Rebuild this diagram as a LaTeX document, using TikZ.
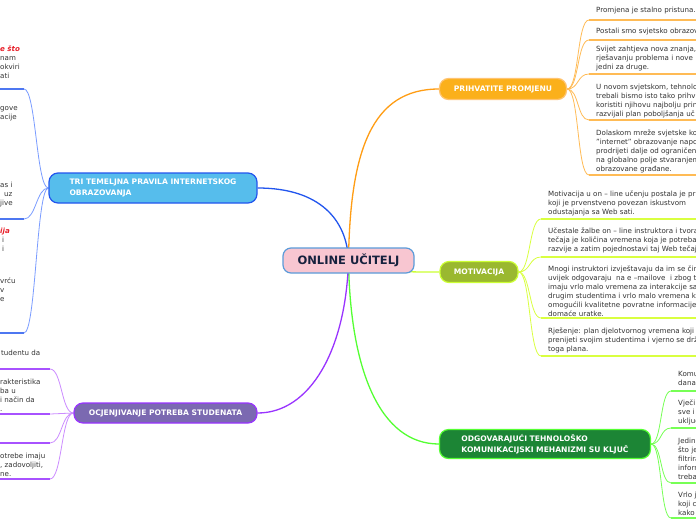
\documentclass[tikz,border=0pt]{standalone}
\usepackage{fontspec}
\setmainfont{DejaVu Sans}
\usepackage{xcolor}
\usetikzlibrary{positioning, backgrounds}
\definecolor{rootFill}{HTML}{F8C6D1}
\definecolor{rootLine}{HTML}{5B9BD9}
\definecolor{rootText}{HTML}{16213E}
\definecolor{leafText}{HTML}{333333}
\definecolor{hotRed}{HTML}{E8202A}
\definecolor{promFill}{HTML}{FBB01B}
\definecolor{promLine}{HTML}{FF9D14}
\definecolor{promLeaf}{HTML}{FFBB55}
\definecolor{motiFill}{HTML}{9AB830}
\definecolor{motiLine}{HTML}{CCFF33}
\definecolor{motiLeaf}{HTML}{D9FF40}
\definecolor{odgoFill}{HTML}{1C8535}
\definecolor{odgoLine}{HTML}{55FF33}
\definecolor{odgoLeaf}{HTML}{77FF55}
\definecolor{triFill}{HTML}{56BDEC}
\definecolor{triLine}{HTML}{2255EE}
\definecolor{triLeaf}{HTML}{7A9CFF}
\definecolor{ocjeFill}{HTML}{7B69B1}
\definecolor{ocjeLine}{HTML}{9933FF}
\definecolor{ocjeLeaf}{HTML}{CC8CFF}

\begin{document}
\begin{tikzpicture}[x=1pt, y=-1pt,
    every node/.style={inner sep=0pt},
    branch/.style={rounded corners=9pt, line width=1.2pt, text=white,
      font=\fontsize{7.6}{11}\selectfont\bfseries, align=left},
    leaf/.style={anchor=north west, yshift=3.4pt, align=left, text=leafText,
      font=\fontsize{7.1}{9}\selectfont},
    link/.style={line width=1.3pt},
    twig/.style={line width=0.8pt},
    bar/.style={line width=1.8pt}]
  \useasboundingbox (0,0) rectangle (696,520);

  % centre
  \node[draw=rootLine, fill=rootFill, rounded corners=8pt, line width=1.2pt,
    minimum width=131pt, minimum height=25pt, text=rootText,
    font=\fontsize{11.5}{13}\selectfont\bfseries] (root) at (348.5,260.5) {ONLINE UČITELJ};

  % branches
  \node[branch, draw=promLine!60, fill=promFill, minimum width=127pt, minimum height=21pt]
    (prom) at (503,89) {PRIHVATITE PROMJENU};
  \node[branch, draw=motiLine, fill=motiFill, minimum width=78pt, minimum height=21pt]
    (moti) at (479,272) {MOTIVACIJA};
  \node[branch, draw=odgoLine, fill=odgoFill, minimum width=211pt, minimum height=29pt]
    (odgo) at (545,444) {ODGOVARAJUĆI TEHNOLOŠKO\\KOMUNIKACIJSKI MEHANIZMI SU KLJUČ};
  \node[branch, draw=triLine, fill=triFill, minimum width=208pt, minimum height=30pt]
    (tri) at (153,188) {TRI TEMELJNA PRAVILA INTERNETSKOG\\OBRAZOVANJA};
  \node[branch, draw=ocjeLine, fill=ocjeFill, minimum width=183pt, minimum height=20pt]
    (ocje) at (165.5,413) {OCJENJIVANJE POTREBA STUDENATA};

  % leaf joints
  \coordinate (redge) at (700,0);
  \coordinate (ledge) at (-4,0);
  \coordinate (p1) at (589,20);  \coordinate (p2) at (589,40);  \coordinate (p3) at (589,74);
  \coordinate (p4) at (589,120); \coordinate (p5) at (589,175);
  \coordinate (m1) at (541,219); \coordinate (m2) at (541,257);
  \coordinate (m3) at (541,318); \coordinate (m4) at (541,356);
  \coordinate (o1) at (671,391); \coordinate (o2) at (671,428);
  \coordinate (o3) at (671,483); \coordinate (o4) at (671,518);
  \coordinate (t1) at (24,89);   \coordinate (t2) at (24,219);  \coordinate (t3) at (24,333);
  \coordinate (c1) at (50,369);  \coordinate (c2) at (50,414);
  \coordinate (c3) at (50,443);  \coordinate (c4) at (50,479);

  % PRIHVATITE PROMJENU texts
  \node[leaf] (p1txt) at (596,10) {Promjena je stalno pristuna.};
  \node[leaf] (p2txt) at (596,31) {Postali smo svjetsko obrazov};
  \node[leaf] (p3txt) at (596,49) {Svijet zahtjeva nova znanja,\\rješavanju problema i nove\\jedni za druge.};
  \node[leaf] (p4txt) at (596,87) {U novom svjetskom, tehnolo\\trebali bismo isto tako prihv\\koristiti njihovu najbolju prin\\razvijali plan poboljšanja uč};
  \node[leaf] (p5txt) at (596,133) {Dolaskom mreže svjetske ko\\"internet" obrazovanje napo\\prodrijeti dalje od ograničen\\na globalno polje stvaranjem\\obrazovane građane.};

  % MOTIVACIJA texts
  \node[leaf] (m1txt) at (548,194) {Motivacija u on – line učenju postala je pr\\koji je prvenstveno povezan iskustvom\\odustajanja sa Web sati.};
  \node[leaf] (m2txt) at (548,231) {Učestale žalbe on – line instruktora i tvora\\tečaja je količina vremena koja je potreba\\razvije a zatim pojednostavi taj Web tečaj};
  \node[leaf] (m3txt) at (548,269) {Mnogi instruktori izvještavaju da im se čin\\uvijek odgovaraju \ na e –mailove \ i zbog t\\imaju vrlo malo vremena za interakcije sa\\drugim studentima i vrlo malo vremena ka\\omogućili kvalitetne povratne informacije\\domaće uratke.};
  \node[leaf] (m4txt) at (548,331) {Rješenje: plan djelotvornog vremena koji\\prenijeti svojim studentima i vjerno se drž\\toga plana.};

  % ODGOVARAJUĆI texts
  \node[leaf] (o1txt) at (678,375) {Komu\\danas};
  \node[leaf] (o2txt) at (678,403) {Vječi\\sve i\\uključ};
  \node[leaf] (o3txt) at (678,441) {Jedin\\što je\\filtrira\\inform\\treba};
  \node[leaf] (o4txt) at (678,495) {Vrlo j\\koji c\\kako};

  % TRI TEMELJNA texts (cut at the left edge)
  \node[leaf] (t1txt) at (0,49) {\textcolor{hotRed}{\bfseries\itshape e što}\\nam\\okviri\\ati};
  \node[leaf] (t2txt) at (0,110) {gove\\acije\\[59pt]as i\\\hspace{4pt}uz\\jive};
  \node[leaf] (t3txt) at (0,231) {\textcolor{hotRed}{\bfseries\itshape ija}\\\hspace{2pt}i\\\hspace{2pt}i\\[23pt]vrću\\v\\e};

  % OCJENJIVANJE texts (cut at the left edge)
  \node[leaf] (c1txt) at (1,353) {tudentu da};
  \node[leaf] (c2txt) at (0,382) {rakteristika\\ba u\\i način da\\.};
  \node[leaf] (c4txt) at (0,456) {otrebe imaju\\, zadovoljiti,\\ne.};

  \begin{scope}[on background layer]
    \fill[white] (0,0) rectangle (696,520);
    % centre to branches
    \draw[link, promLine] (root.center) .. controls (350,150) and (372,89) .. (prom.west);
    \draw[link, motiLine] (root.center) .. controls (370,272) and (400,272) .. (moti.west);
    \draw[link, odgoLine] (root.center) .. controls (350,370) and (380,444) .. (odgo.west);
    \draw[link, triLine] (root.center) .. controls (347,220) and (320,188) .. (tri.east);
    \draw[link, ocjeLine] (root.center) .. controls (346,350) and (310,413) .. (ocje.east);
    % branches to leaves
    \foreach \j in {p1,p2,p3,p4,p5}{
      \draw[twig, promLeaf] (prom.east) .. controls +(12,0) and +(-12,0) .. (\j);
      \draw[bar, promLeaf] (\j) -- (\j -| redge);
    }
    \foreach \j in {m1,m2,m3,m4}{
      \draw[twig, motiLeaf] (moti.east) .. controls +(12,0) and +(-12,0) .. (\j);
      \draw[bar, motiLeaf] (\j) -- (\j -| redge);
    }
    \foreach \j in {o1,o2,o3,o4}{
      \draw[twig, odgoLeaf] (odgo.east) .. controls +(11,0) and +(-11,0) .. (\j);
      \draw[bar, odgoLeaf] (\j) -- (\j -| redge);
    }
    \foreach \j in {t1,t2,t3}{
      \draw[twig, triLeaf] (tri.west) .. controls +(-12,0) and +(12,0) .. (\j);
      \draw[bar, triLine!80] (ledge |- \j) -- (\j);
    }
    \foreach \j in {c1,c2,c3,c4}{
      \draw[twig, ocjeLeaf] (ocje.west) .. controls +(-12,0) and +(12,0) .. (\j);
      \draw[bar, ocjeLine!85] (ledge |- \j) -- (\j);
    }
  \end{scope}
\end{tikzpicture}
\end{document}
